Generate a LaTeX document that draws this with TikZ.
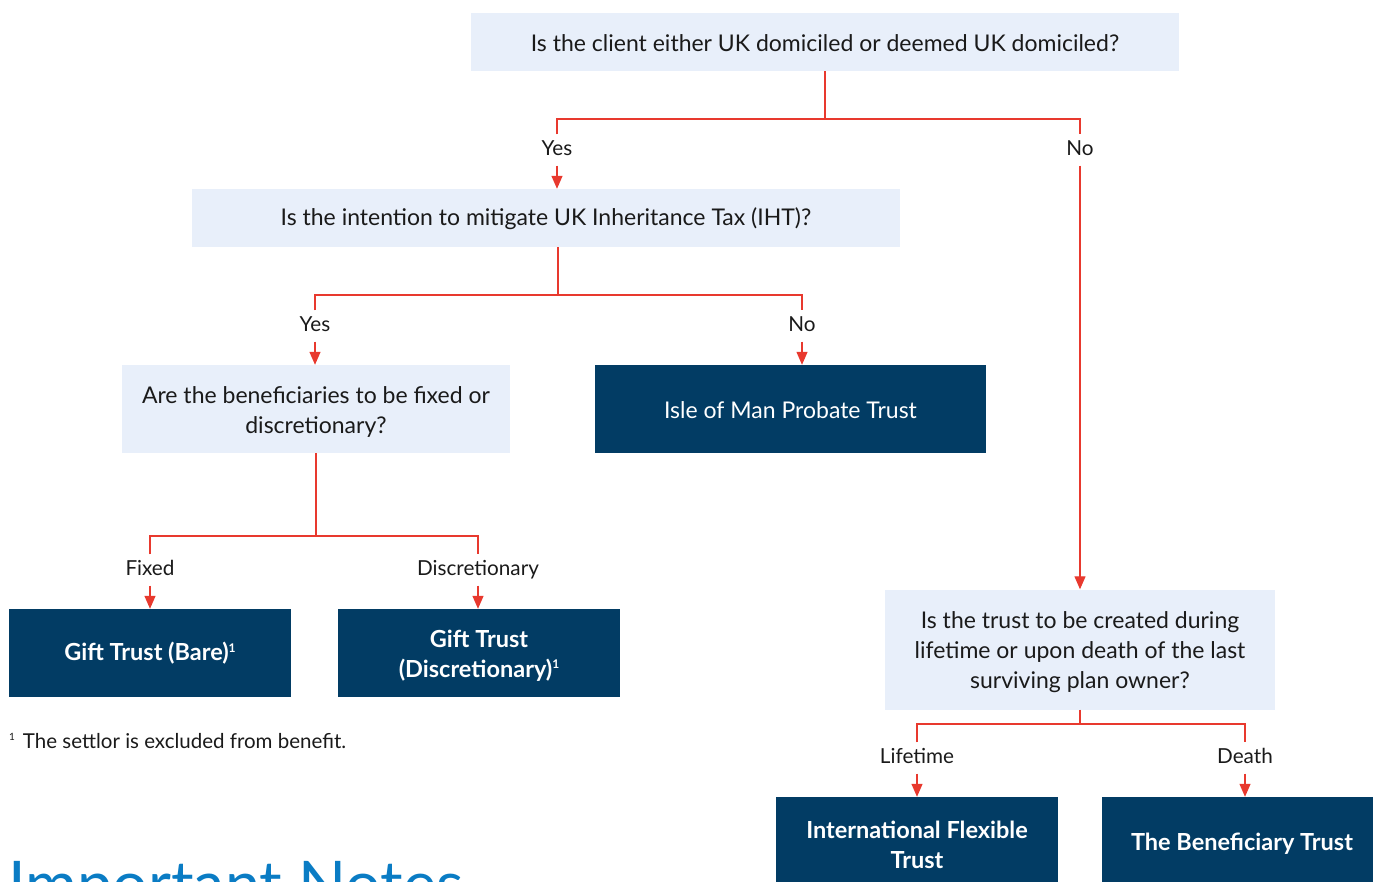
\documentclass[tikz,border=0pt]{standalone}
\usepackage{fontspec}
\setmainfont{Lato}
\usetikzlibrary{arrows.meta}
\definecolor{qfill}{HTML}{E8EFFA}
\definecolor{navy}{HTML}{023C64}
\definecolor{lnred}{HTML}{E8392E}
\definecolor{txt}{HTML}{1A1A1A}
\definecolor{notes}{HTML}{0A7CC4}
\newcommand{\fnmk}{\raisebox{0.7ex}{\fontsize{12}{12}\selectfont 1}}
\newcommand{\fnmks}{\raisebox{0.75ex}{\fontsize{10}{10}\selectfont 1}}
\begin{document}
\begin{tikzpicture}[x=1pt,y=-1pt,
 qbox/.style={fill=qfill, inner sep=0pt, align=center, text=txt, font=\fontsize{23}{30}\selectfont},
 abox/.style={fill=navy, inner sep=0pt, align=center, text=white, font=\fontsize{23.5}{30}\selectfont\bfseries},
 lbl/.style={inner xsep=1pt, inner ysep=5pt, text height=16pt, text depth=5pt, text=txt, font=\fontsize{20.7}{24}\selectfont},
 conn/.style={draw=lnred, line width=1.3pt},
 arr/.style={conn, -{Triangle[width=11pt,length=13pt]}},
]
\useasboundingbox (0,0) rectangle (1373,882);
\clip (0,0) rectangle (1373,882);

% question boxes
\node[qbox, minimum width=708pt, minimum height=58pt] (q1) at (825,42)
  {\rule{0pt}{19pt}Is the client either UK domiciled or deemed UK domiciled?};
\node[qbox, minimum width=708pt, minimum height=58pt] (q2) at (546,218)
  {\rule{0pt}{19pt}Is the intention to mitigate UK Inheritance Tax (IHT)?};
\node[qbox, minimum width=388pt, minimum height=88pt] (q3) at (316,409)
  {\rule{0pt}{22pt}Are the beneficiaries to be fixed or\\discretionary?};
\node[qbox, minimum width=390pt, minimum height=120pt] (q4) at (1080,649.5)
  {\rule{0pt}{22pt}Is the trust to be created during\\lifetime or upon death of the last\\surviving plan owner?};

% answer boxes
\node[abox, font=\fontsize{23}{30}\selectfont, minimum width=391pt, minimum height=88pt] (a1) at (790.5,409)
  {\rule{0pt}{19pt}Isle of Man Probate Trust};
\node[abox, minimum width=282pt, minimum height=88pt] (a2) at (150,653)
  {\rule{0pt}{19pt}Gift Trust (Bare)\fnmk};
\node[abox, minimum width=282pt, minimum height=88pt] (a3) at (479,653)
  {\rule{0pt}{22pt}Gift Trust\\(Discretionary)\fnmk};
\node[abox, minimum width=282pt, minimum height=92pt] (a4) at (917,843)
  {\rule{0pt}{22pt}International Flexible\\Trust};
\node[abox, minimum width=280pt, minimum height=92pt] (a5) at (1242,843)
  {\rule{0pt}{19pt}The Beneficiary Trust};

% labels
\node[lbl] (yes1) at (557,150) {Yes};
\node[lbl] (no1) at (1080,150) {No};
\node[lbl] (yes2) at (315,326) {Yes};
\node[lbl] (no2) at (802,326) {No};
\node[lbl] (fix) at (150,570) {Fixed};
\node[lbl] (disc) at (478,570) {Discretionary};
\node[lbl] (life) at (917,758) {Lifetime};
\node[lbl] (death) at (1245,758) {Death};

% junctions
\coordinate (j1) at (825,119);
\coordinate (j2) at (558,295);
\coordinate (j3) at (316,536);
\coordinate (j4) at (1080,724);

% connectors
\draw[conn] (q1.south) -- (j1);
\draw[conn] (yes1.north) |- (j1) -| (no1.north);
\draw[arr] (yes1.south) -- (yes1.south |- q2.north);
\draw[arr] (no1.south) -- (q4.north);

\draw[conn] (j2 |- q2.south) -- (j2);
\draw[conn] (yes2.north) |- (j2) -| (no2.north);
\draw[arr] (yes2.south) -- (yes2.south |- q3.north);
\draw[arr] (no2.south) -- (no2.south |- a1.north);

\draw[conn] (q3.south) -- (j3);
\draw[conn] (fix.north) |- (j3) -| (disc.north);
\draw[arr] (fix.south) -- (fix.south |- a2.north);
\draw[arr] (disc.south) -- (disc.south |- a3.north);

\draw[conn] (q4.south) -- (j4);
\draw[conn] (life.north) |- (j4) -| (death.north);
\draw[arr] (life.south) -- (a4.north);
\draw[arr] (death.south) -- (death.south |- a5.north);

% footnote
\node[anchor=west, inner sep=0pt, text=txt, font=\fontsize{20.5}{24}\selectfont] (fn) at (9,741)
  {\fnmks\hspace{8pt}The settlor is excluded from benefit.};

% heading (cut off)
\node[anchor=base west, inner sep=0pt, text=notes, font=\fontsize{63}{70}\selectfont] (notes) at (8,906)
  {Important Notes};
\end{tikzpicture}
\end{document}
